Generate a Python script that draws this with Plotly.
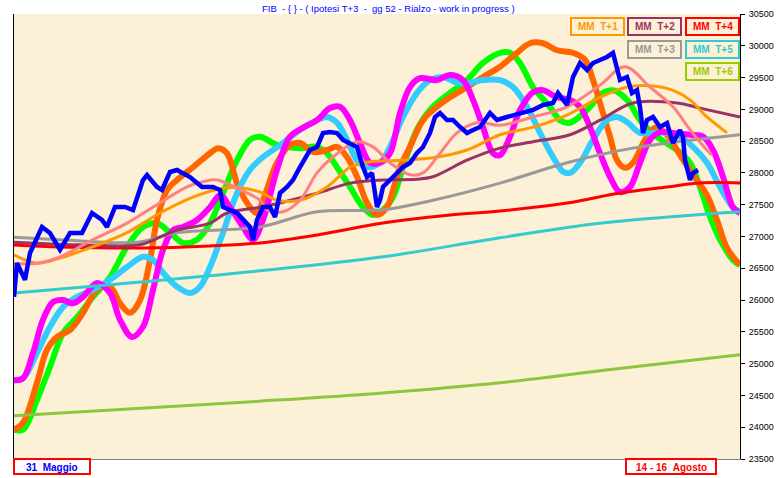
import plotly.graph_objects as go

# ---------------- data (x = session index 0..726, y = FIB points) ----------------
price_x = [0, 3, 11, 16, 28, 36, 46, 56, 68, 78, 88, 93, 101, 111, 119, 129, 133, 143, 148, 156, 163, 176, 188,
           199, 206, 209, 223, 236, 239, 243, 249, 256, 261, 266, 273, 279, 286, 296, 303, 309, 316, 323, 329, 336,
           343, 349, 353, 358, 363, 366, 369, 376, 383, 389, 396, 403, 409, 416, 421, 426, 433, 439, 446, 453, 459,
           466, 476, 483, 493, 506, 519, 529, 539, 544, 553, 559, 566, 573, 579, 586, 593, 599, 603, 606, 613, 618,
           623, 626, 629, 633, 639, 646, 653, 656, 659, 666, 669, 671, 676, 679, 684]
price_y = [26050, 26580, 26320, 26740, 27150, 27055, 26790, 27055, 27055, 27370, 27260, 27150, 27464, 27464, 27417,
           27889, 27967, 27779, 27732, 28015, 28046, 27936, 27779, 27779, 27732, 27464, 27370, 27150, 26945, 27260,
           27464, 27464, 27307, 27684, 27779, 27889, 28093, 28361, 28408, 28628, 28644, 28628, 28518, 28471, 28408,
           28093, 27936, 27999, 27464, 27574, 27779, 27889, 27999, 28093, 28156, 28314, 28408, 28628, 28880, 28943,
           28833, 28833, 28723, 28628, 28675, 28723, 28943, 28833, 28880, 28943, 28990, 29069, 29100, 29257, 29069,
           29509, 29729, 29619, 29729, 29776, 29824, 29887, 29619, 29462, 29509, 29257, 29304, 29037, 28628, 28833,
           28880, 28723, 28785, 28628, 28471, 28675, 28565, 28203, 27889, 27999, 28046]

mm1_x = [0, 23, 46, 79, 113, 146, 179, 209, 229, 246, 263, 286, 313, 336, 353, 386, 419, 453, 486, 519, 553, 586,
         613, 636, 659, 676, 693, 713]
mm1_y = [26710, 26580, 26660, 26840, 27060, 27370, 27620, 27760, 27760, 27700, 27570, 27570, 27780, 28090, 28170,
         28200, 28240, 28360, 28600, 28720, 28910, 29190, 29350, 29370, 29300, 29150, 28880, 28630]

mm2_x = [0, 63, 126, 146, 163, 196, 213, 246, 269, 303, 336, 369, 403, 419, 453, 486, 519, 556, 586, 619, 663, 686,
         726]
mm2_y = [26910, 26870, 26870, 26990, 27100, 27210, 27370, 27460, 27540, 27680, 27840, 27890, 27900, 27940, 28200,
         28390, 28490, 28600, 28830, 29100, 29100, 29020, 28880]

mm3_x = [0, 46, 123, 163, 246, 303, 369, 419, 486, 553, 619, 726]
mm3_y = [26990, 26950, 26910, 27060, 27150, 27390, 27420, 27570, 27840, 28160, 28390, 28600]

mm4_x = [0, 46, 129, 196, 246, 303, 369, 436, 486, 553, 606, 653, 686, 726]
mm4_y = [26866, 26835, 26819, 26851, 26898, 27024, 27212, 27338, 27401, 27527, 27684, 27779, 27842, 27842]

mm5_x = [0, 96, 246, 369, 486, 586, 726]
mm5_y = [26110, 26240, 26460, 26680, 26980, 27210, 27390]

mm6_x = [0, 246, 369, 486, 603, 726]
mm6_y = [24180, 24410, 24540, 24700, 24920, 25140]

pink_x = [0, 23, 46, 79, 113, 146, 173, 189, 203, 223, 246, 253, 269, 286, 303, 319, 343, 359, 376, 396, 409, 426,
          443, 463, 486, 519, 553, 586, 611, 636, 659, 676, 693, 698]
pink_y = [26580, 26580, 26680, 26950, 27210, 27530, 27780, 27860, 27890, 27760, 27570, 27420, 27390, 27570, 28000,
          28250, 28490, 28410, 28160, 27970, 28000, 28310, 28630, 28790, 28750, 28880, 29040, 29380, 29670, 29350,
          29040, 28680, 28360, 28280]

green_x = [0, 9, 23, 36, 49, 63, 79, 96, 113, 129, 143, 156, 169, 183, 196, 209, 223, 236, 246, 263, 286, 303, 313,
           323, 336, 349, 359, 369, 379, 389, 403, 416, 436, 453, 469, 486, 496, 506, 519, 536, 546, 556, 573, 589,
           599, 613, 626, 643, 663, 676, 686, 696, 706, 719, 726]
green_y = [23960, 23960, 24430, 24950, 25480, 25730, 26050, 26360, 26840, 27150, 27210, 27060, 26900, 26950, 27210,
           27680, 28200, 28520, 28570, 28440, 28390, 28410, 28310, 28090, 27780, 27460, 27340, 27420, 27620, 28090,
           28680, 28990, 29260, 29460, 29730, 29890, 29890, 29730, 29350, 29040, 28830, 28790, 28990, 29260, 29300,
           29150, 28830, 28570, 28360, 28160, 27780, 27310, 26950, 26630, 26550]

orange_x = [0, 9, 23, 33, 43, 56, 69, 83, 96, 106, 116, 126, 136, 143, 153, 163, 179, 196, 204, 213, 223, 233, 243,
            249, 263, 276, 286, 299, 313, 323, 333, 343, 353, 363, 373, 379, 386, 396, 409, 423, 436, 453, 469, 486,
            503, 516, 529, 543, 559, 571, 579, 586, 596, 603, 611, 619, 631, 641, 653, 666, 679, 693, 703, 713, 726]
orange_y = [23960, 24070, 24700, 25220, 25420, 25530, 25800, 26160, 26210, 25950, 25800, 26000, 26630, 27260, 27730,
            27890, 28090, 28310, 28390, 28310, 27840, 27530, 27370, 27570, 28160, 28440, 28470, 28330, 28360, 28410,
            28250, 27940, 27530, 27340, 27460, 27730, 28090, 28410, 28830, 29040, 29190, 29350, 29510, 29670, 29890,
            30040, 30040, 29930, 29890, 29780, 29460, 29100, 28570, 28200, 28080, 28160, 28520, 28710, 28600, 28280,
            27970, 27650, 27260, 26820, 26550]

magenta_x = [0, 9, 19, 29, 39, 49, 59, 69, 83, 96, 106, 118, 129, 139, 149, 159, 169, 183, 196, 206, 216, 229, 239,
             249, 263, 276, 289, 303, 316, 326, 336, 346, 356, 366, 376, 386, 396, 406, 423, 436, 449, 459, 469, 479,
             486, 496, 506, 519, 529, 543, 556, 566, 576, 586, 596, 606, 616, 626, 636, 646, 659, 676, 689, 699, 709,
             719, 726]
magenta_y = [24740, 24770, 25170, 25690, 25970, 26000, 25950, 26050, 26270, 26110, 25690, 25420, 25580, 26160, 26790,
             27100, 27150, 27260, 27460, 27650, 27460, 27150, 26950, 27260, 28050, 28570, 28710, 28830, 29020, 29040,
             28830, 28470, 28160, 28160, 28310, 28940, 29350, 29490, 29460, 29540, 29460, 29150, 28720, 28310, 28280,
             28570, 28990, 29270, 29300, 29190, 29150, 29040, 28720, 28310, 27940, 27700, 27780, 28160, 28520, 28640,
             28630, 28600, 28570, 28360, 27940, 27460, 27370]

sky_x = [0, 9, 23, 36, 49, 63, 79, 96, 113, 129, 139, 149, 163, 176, 186, 196, 209, 223, 236, 249, 269, 286, 303, 313,
         323, 333, 343, 353, 366, 376, 389, 403, 416, 429, 443, 456, 469, 486, 499, 513, 526, 539, 549, 556, 566, 579,
         593, 603, 613, 626, 639, 653, 666, 679, 693, 706, 719, 726]
sky_y = [24740, 24770, 25170, 25580, 25890, 26050, 26160, 26320, 26520, 26680, 26630, 26430, 26210, 26110, 26210,
         26520, 27060, 27680, 28050, 28250, 28470, 28680, 28830, 28880, 28790, 28520, 28200, 28090, 28160, 28410,
         28880, 29260, 29460, 29510, 29420, 29420, 29460, 29460, 29350, 29040, 28630, 28250, 28020, 28000, 28160,
         28520, 28830, 28880, 28800, 28630, 28630, 28630, 28570, 28410, 28160, 27780, 27460, 27390]

y_ticks = [23500, 24000, 24500, 25000, 25500, 26000, 26500, 27000, 27500, 28000, 28500, 29000, 29500, 30000, 30500]
title_text = "FIB  - { } - ( Ipotesi T+3  -  gg 52 - Rialzo - work in progress )"
legend_items = [("MM  T+1", "#FF9900"), ("MM  T+2", "#993366"), ("MM  T+4", "#FF0000"),
                ("MM  T+3", "#999999"), ("MM  T+5", "#33CCCC"), ("MM  T+6", "#99CC00")]
start_label = "31  Maggio"
end_label = "14 - 16  Agosto"

# ---------------- figure ----------------
W, H = 778, 478
ML, MR, MT, MB = 14, 38, 14, 19
PW, PH = W - ML - MR, H - MT - MB

def px(x):
    return (x - ML) / PW

def py(y):
    return (H - MB - y) / PH

fig = go.Figure()

def add_line(x, y, color, width, shape="spline"):
    fig.add_trace(go.Scatter(x=x, y=y, mode="lines", line=dict(color=color, width=width, shape=shape),
                             hoverinfo="skip", showlegend=False))

# thick cycle projections
add_line(green_x, green_y, "#00FF00", 6)
add_line(orange_x, orange_y, "#FF6600", 6)
add_line(sky_x, sky_y, "#33CCFF", 6)
add_line(magenta_x, magenta_y, "#FF00FF", 6)
# moving averages
add_line(mm6_x, mm6_y, "#8CC63F", 3)
add_line(mm5_x, mm5_y, "#33CCCC", 3)
add_line(mm4_x, mm4_y, "#FF0000", 3)
add_line(mm3_x, mm3_y, "#999999", 3)
add_line(mm2_x, mm2_y, "#993366", 3)
add_line(mm1_x, mm1_y, "#FF9900", 3)
add_line(pink_x, pink_y, "#FF8080", 3)
# price
add_line(price_x, price_y, "#0000FF", 4.5, shape="linear")

shapes = []
annotations = []

# legend boxes (pixel boxes)
boxes = [(571, 18, 624, 35), (628, 18, 681, 35), (686, 18, 739, 35),
         (628, 41, 681, 58), (686, 41, 739, 58), (686, 63, 739, 80)]
for (x0, y0, x1, y1), (txt, col) in zip(boxes, legend_items):
    shapes.append(dict(type="rect", xref="paper", yref="paper", x0=px(x0), x1=px(x1), y0=py(y1), y1=py(y0),
                       line=dict(color=col, width=2), fillcolor="rgba(0,0,0,0)"))
    annotations.append(dict(xref="paper", yref="paper", x=px((x0 + x1) / 2), y=py((y0 + y1) / 2),
                            text="<b>" + txt.replace(" ", "\u00a0") + "</b>", showarrow=False,
                            font=dict(family="Arial, Liberation Sans", size=10, color=col),
                            xanchor="center", yanchor="middle"))

# bottom labels
for (x0, y0, x1, y1), txt, col in [((14, 459, 90, 474), start_label, "#0000FF"),
                                    ((626, 459, 716, 474), end_label, "#FF0000")]:
    shapes.append(dict(type="rect", xref="paper", yref="paper", x0=px(x0), x1=px(x1), y0=py(y1), y1=py(y0),
                       line=dict(color="#FF0000", width=2), fillcolor="white"))
    annotations.append(dict(xref="paper", yref="paper", x=px((x0 + x1) / 2), y=py((y0 + y1) / 2 + 0.5),
                            text="<b>" + txt.replace(" ", "\u00a0") + "</b>", showarrow=False,
                            font=dict(family="Arial, Liberation Sans", size=10, color=col),
                            xanchor="center", yanchor="middle"))

# title
annotations.append(dict(xref="paper", yref="paper", x=px(389), y=py(8), text=title_text.replace(" ", "\u00a0"),
                        showarrow=False, font=dict(family="Arial, Liberation Sans", size=9.5, color="#0000FF"),
                        xanchor="center", yanchor="middle"))

fig.update_layout(
    width=W, height=H,
    margin=dict(l=ML, r=MR, t=MT, b=MB, pad=0, autoexpand=False),
    paper_bgcolor="white",
    plot_bgcolor="#FCF0D6",
    shapes=shapes,
    annotations=annotations,
    showlegend=False,
    xaxis=dict(range=[0, 726], showgrid=False, zeroline=False, showticklabels=False, ticks="",
               showline=True, linecolor="#808080", linewidth=1, mirror=False, fixedrange=True,
               automargin=False),
    yaxis=dict(range=[23500, 30500], side="right", tickvals=y_ticks, tickformat="d", showgrid=False,
               zeroline=False, ticks="outside", ticklen=4, tickcolor="black", showline=True,
               linecolor="black", linewidth=1, mirror=True, automargin=False, ticklabelstandoff=2,
               tickfont=dict(family="Arial, Liberation Sans", size=9, color="black")),
)

fig.write_html("out.html", config={"displayModeBar": False},
               post_script="document.body.style.margin='0';document.body.style.overflow='hidden';")
